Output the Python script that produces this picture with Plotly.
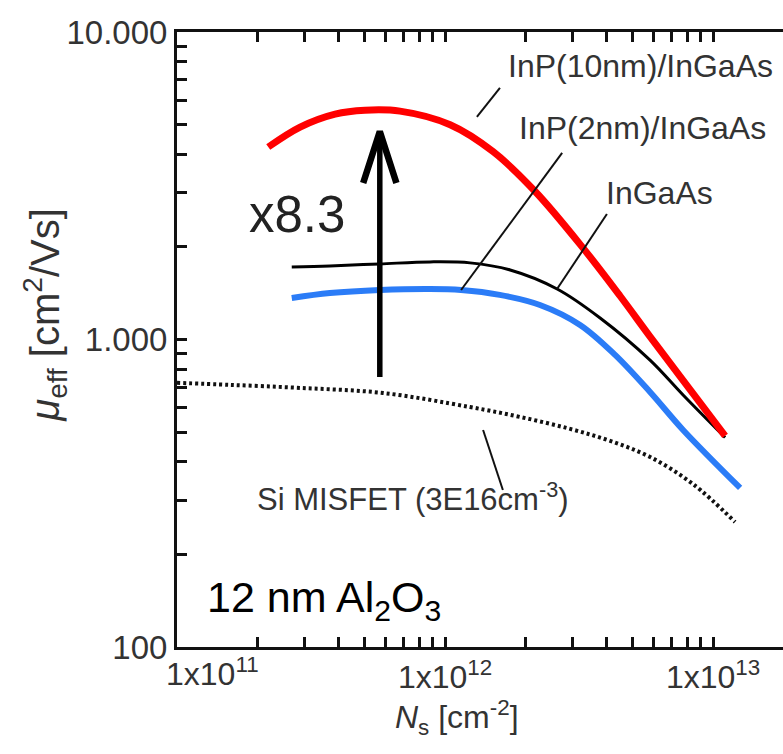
import plotly.graph_objects as go
import math

# ---------------- data ----------------
red_x = [2.19e11, 2.88e11, 3.89e11, 5.03e11, 6.79e11, 1.045e12, 1.51e12, 2.17e12,
         3.27e12, 4.50e12, 5.82e12, 7.73e12, 1.109e13]
red_y = [4227, 4909, 5410, 5570, 5530, 4994, 4084, 3029, 1986, 1385, 1022, 736, 486]

ingaas_x = [2.68e11, 3.72e11, 5.71e11, 8.79e11, 1.24e12, 1.75e12, 2.62e12, 3.79e12,
            5.82e12, 7.73e12, 1.109e13]
ingaas_y = [1722, 1735, 1761, 1788, 1775, 1683, 1460, 1175, 857, 660, 480]

blue_x = [2.68e11, 3.72e11, 5.71e11, 8.79e11, 1.148e12, 1.60e12, 2.26e12, 3.19e12,
          4.31e12, 5.82e12, 7.73e12, 1.262e13]
blue_y = [1365, 1416, 1449, 1460, 1449, 1397, 1295, 1115, 891, 675, 508, 329]

si_x = [1.0e11, 1.577e11, 2.877e11, 5.87e11, 1.24e12, 1.905e12, 2.93e12, 4.13e12,
        5.82e12, 8.41e12, 1.208e13]
si_y = [723, 712, 696, 670, 603, 560, 512, 468, 415, 339, 255]

x_tickvals = [1e11, 1e12, 1e13]
x_ticktext = ["1x10<sup>11</sup>", "1x10<sup>12</sup>", "1x10<sup>13</sup>"]
y_tickvals = [100, 1000, 10000]
y_ticktext = ["100", "1.000", "10.000"]

# arrow (x8.3) : x position, bottom and tip values
arrow_x = 5.71e11
arrow_y0 = 755
arrow_y1 = 4750

# leader lines: (x0, y0, x1, y1) in data units
leaders = [
    (1.603e12, 6577, 1.315e12, 5297),
    (2.735e12, 4046, 1.148e12, 1449),
    (4.018e12, 2559, 2.618e12, 1459),
    (1.387e12, 508, 1.644e12, 324),
]

FONT = "Liberation Sans, Arial, sans-serif"

fig = go.Figure()

fig.add_trace(go.Scatter(x=si_x, y=si_y, mode="lines", line_shape="spline",
                         line=dict(color="#111111", width=4, dash="3px,3px")))
fig.add_trace(go.Scatter(x=blue_x, y=blue_y, mode="lines", line_shape="spline",
                         line=dict(color="#2b7cf7", width=6)))
fig.add_trace(go.Scatter(x=ingaas_x, y=ingaas_y, mode="lines", line_shape="spline",
                         line=dict(color="#000000", width=3)))
fig.add_trace(go.Scatter(x=red_x, y=red_y, mode="lines", line_shape="spline",
                         line=dict(color="#ff0000", width=7)))

for x0, y0, x1, y1 in leaders:
    fig.add_trace(go.Scatter(x=[x0, x1], y=[y0, y1], mode="lines",
                             line=dict(color="#111111", width=2)))

# big arrow: shaft + chevron head
lx = math.log10(arrow_x)
ly1 = math.log10(arrow_y1)
head_dx = 0.062
head_dy = 0.168
fig.add_trace(go.Scatter(x=[arrow_x, arrow_x], y=[arrow_y0, arrow_y1], mode="lines",
                         line=dict(color="black", width=5.5)))
fig.add_trace(go.Scatter(x=[10 ** (lx - head_dx), arrow_x, 10 ** (lx + head_dx)],
                         y=[10 ** (ly1 - head_dy), arrow_y1, 10 ** (ly1 - head_dy)],
                         mode="lines", line=dict(color="black", width=6.5)))

labels = [
    ("InP(10nm)/InGaAs", 12.728, 3.889, 32, "#333333", "center"),
    ("InP(2nm)/InGaAs", 12.735, 3.688, 32, "#333333", "center"),
    ("InGaAs", 12.802, 3.476, 32, "#333333", "center"),
    ("x8.3", 11.448, 3.405, 51, "#222222", "center"),
    ("Si MISFET (3E16cm<sup>-3</sup>)", 11.880, 2.488, 31, "#333333", "center"),
    ("12 nm Al<sub>2</sub>O<sub>3</sub>", 11.104, 2.153, 43, "#000000", "left"),
]
for txt, ax_, ay_, fs, col, xa in labels:
    fig.add_annotation(x=ax_, y=ay_, xref="x", yref="y", text=txt, showarrow=False,
                       xanchor=xa, yanchor="middle",
                       font=dict(family=FONT, size=fs, color=col))

# first x tick label sits right of its tick in the reference
fig.add_annotation(x=math.log10(x_tickvals[0]), y=0, xref="x", yref="paper",
                   text=x_ticktext[0], showarrow=False, xanchor="left", yanchor="top",
                   xshift=-13, yshift=-3,
                   font=dict(family=FONT, size=32, color="#333333"))

# axis titles
fig.add_annotation(x=-0.218, y=0.54, xref="paper", yref="paper", textangle=-90,
                   text="<i>μ</i><sub>eff</sub> [cm<sup>2</sup>/Vs]", showarrow=False,
                   xanchor="center", yanchor="middle",
                   font=dict(family=FONT, size=40, color="#333333"))
fig.add_annotation(x=0.462, y=-0.1154, xref="paper", yref="paper",
                   text="<i>N</i><sub>s</sub> [cm<sup>-2</sup>]", showarrow=False,
                   xanchor="center", yanchor="middle",
                   font=dict(family=FONT, size=32, color="#333333"))

minor_x = [k * 10 ** e for e in (11, 12, 13) for k in range(2, 10)]
minor_y = [k * 10 ** e for e in (2, 3) for k in range(2, 10)]

fig.update_xaxes(type="log", range=[11, 13.261], showline=True, linecolor="#111111",
                 linewidth=3, mirror="ticks", ticks="inside", ticklen=10, tickwidth=2.5,
                 tickcolor="#111111", tickmode="array", tickvals=x_tickvals,
                 ticktext=[""] + x_ticktext[1:], showgrid=False, zeroline=False,
                 minor=dict(ticks="inside", ticklen=10, tickwidth=2.5, tickcolor="#111111",
                            tickmode="array", tickvals=minor_x, showgrid=False),
                 tickfont=dict(family=FONT, size=32, color="#333333"))
fig.update_yaxes(type="log", range=[2, 4], showline=True, linecolor="#111111",
                 linewidth=3, ticks="inside", ticklen=10, tickwidth=2.5,
                 tickcolor="#111111", tickmode="array", tickvals=y_tickvals,
                 ticktext=y_ticktext, showgrid=False, zeroline=False,
                 minor=dict(ticks="inside", ticklen=10, tickwidth=2.5, tickcolor="#111111",
                            tickmode="array", tickvals=minor_y, showgrid=False),
                 tickfont=dict(family=FONT, size=33, color="#333333"))

fig.update_layout(width=783, height=754, margin=dict(l=177, r=0, t=32, b=107),
                  paper_bgcolor="white", plot_bgcolor="white", showlegend=False)

fig.write_html("out.html")
